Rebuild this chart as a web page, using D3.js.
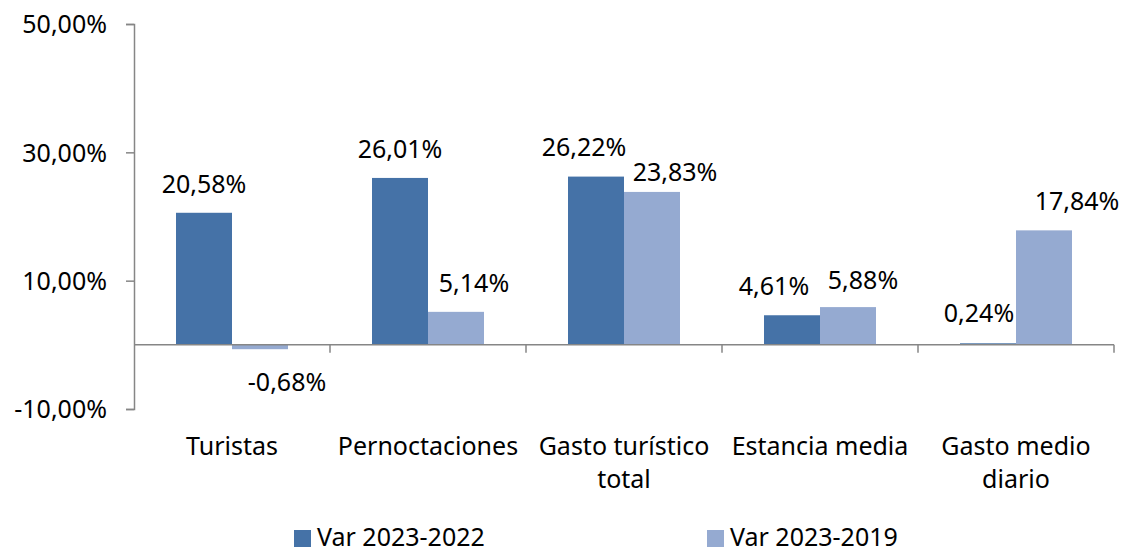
<!DOCTYPE html>
<html>
<head>
<meta charset="utf-8">
<script src="https://cdn.jsdelivr.net/npm/d3@7"></script>
<style>
  body { margin: 0; background: #fff; }
  text { font-family: 'Noto Sans', sans-serif; fill: #000; }
</style>
</head>
<body>
<div id="chart"></div>
<script>
const categories = ['Turistas', 'Pernoctaciones', 'Gasto turístico total', 'Estancia media', 'Gasto medio diario']
const seriesNames = ['Var 2023-2022', 'Var 2023-2019']
const var2022 = [20.58, 26.01, 26.22, 4.61, 0.24]
const var2019 = [-0.68, 5.14, 23.83, 5.88, 17.84]
const yTicks = [-10, 10, 30, 50]

// hand-moved data labels (as in the original), px from the default spot
const labelNudgeX = [[0, 0, -12, -18, -9], [27, 18, 23, 15, 33]]
const labelNudgeY = [[0, 0, -1, 0, -1], [0, 0, 9, 2, 0]]

const colors = ['#4572a7', '#95aad1']
const fontSize = 25

const width = 1126
const height = 554
const margin = { top: 24, left: 134, right: 12, bottom: 145 }

const svg = d3
  .select('#chart')
  .append('svg')
  .attr('width', width)
  .attr('height', height)

const x = d3
  .scaleBand()
  .domain(categories)
  .range([margin.left, width - margin.right])

const y = d3
  .scaleLinear()
  .domain([-10, 50])
  .range([height - margin.bottom, margin.top])

const fmt = v => d3.format('.2f')(v).replace('.', ',').replace('\u2212', '-') + '%'

// y axis
const yAxis = d3.axisLeft(y).tickValues(yTicks).tickSize(8).tickFormat(fmt)
const yG = svg
  .append('g')
  .attr('transform', 'translate(' + margin.left + ',0)')
  .call(yAxis)
yG.select('.domain').attr('stroke', '#868686').attr('stroke-width', 1.5)
yG.selectAll('.tick line').attr('stroke', '#868686').attr('stroke-width', 1.5)
yG.selectAll('.tick text')
  .attr('x', -27)
  .attr('dy', '0.35em')
  .style('font-size', fontSize + 'px')
  .style('font-family', "'Noto Sans', sans-serif")
  .attr('fill', '#000')

// bars, gap width 150% -> two bars of w and 1.5w of space per band
const rows = categories.map((c, i) => ({ cat: c, i: i, values: [var2022[i], var2019[i]] }))
const barW = x.bandwidth() / 3.5

const group = svg
  .selectAll('.cat')
  .data(rows)
  .enter()
  .append('g')
  .attr('class', 'cat')
  .attr('transform', d => 'translate(' + x(d.cat) + ',0)')

group
  .selectAll('rect')
  .data(d => d.values.map((v, k) => ({ v: v, k: k, i: d.i })))
  .enter()
  .append('rect')
  .attr('x', d => x.bandwidth() / 2 - barW + d.k * barW)
  .attr('width', barW)
  .attr('y', d => y(Math.max(0, d.v)))
  .attr('height', d => Math.max(1, Math.abs(y(d.v) - y(0))))
  .attr('fill', d => colors[d.k])

group
  .selectAll('.lbl')
  .data(d => d.values.map((v, k) => ({ v: v, k: k, i: d.i })))
  .enter()
  .append('text')
  .attr('class', 'lbl')
  .attr('x', d => x.bandwidth() / 2 - barW / 2 + d.k * barW + labelNudgeX[d.k][d.i])
  .attr('y', d => (d.v >= 0 ? y(d.v) - 20 : y(d.v) + 42) + labelNudgeY[d.k][d.i])
  .attr('text-anchor', 'middle')
  .style('font-size', fontSize + 'px')
  .text(d => fmt(d.v))

// category axis along zero
const zeroY = y(0)
svg
  .append('line')
  .attr('x1', margin.left)
  .attr('x2', width - margin.right)
  .attr('y1', zeroY)
  .attr('y2', zeroY)
  .attr('stroke', '#868686')
  .attr('stroke-width', 1.5)

svg
  .selectAll('.ctick')
  .data(categories)
  .enter()
  .append('line')
  .attr('class', 'ctick')
  .attr('x1', d => x(d) + x.bandwidth())
  .attr('x2', d => x(d) + x.bandwidth())
  .attr('y1', zeroY)
  .attr('y2', zeroY + 8)
  .attr('stroke', '#868686')
  .attr('stroke-width', 1.5)

// category labels, wrapped to the band width
const catLabels = svg
  .selectAll('.clabel')
  .data(categories)
  .enter()
  .append('text')
  .attr('class', 'clabel')
  .attr('text-anchor', 'middle')
  .style('font-size', fontSize + 'px')
  .attr('x', d => x(d) + x.bandwidth() / 2)
  .attr('y', 455)

catLabels.each(function(d) {
  const el = d3.select(this)
  const words = d.split(' ')
  let line = []
  let tspan = el.append('tspan').attr('x', x(d) + x.bandwidth() / 2).attr('dy', 0)
  words.forEach(w => {
    line.push(w)
    tspan.text(line.join(' '))
    if (tspan.node().getComputedTextLength() > x.bandwidth() - 4 && line.length > 1) {
      line.pop()
      tspan.text(line.join(' '))
      line = [w]
      tspan = el.append('tspan').attr('x', x(d) + x.bandwidth() / 2).attr('dy', 33).text(w)
    }
  })
})

// legend
const legendX = [294, 707]
const legend = svg
  .selectAll('.legend')
  .data(seriesNames)
  .enter()
  .append('g')
  .attr('class', 'legend')
  .attr('transform', (d, i) => 'translate(' + legendX[i] + ',0)')

legend
  .append('rect')
  .attr('x', 0)
  .attr('y', 530)
  .attr('width', 17)
  .attr('height', 17)
  .attr('fill', (d, i) => colors[i])

legend
  .append('text')
  .attr('x', 23)
  .attr('y', 546)
  .style('font-size', fontSize + 'px')
  .text(d => d)
</script>
</body>
</html>
